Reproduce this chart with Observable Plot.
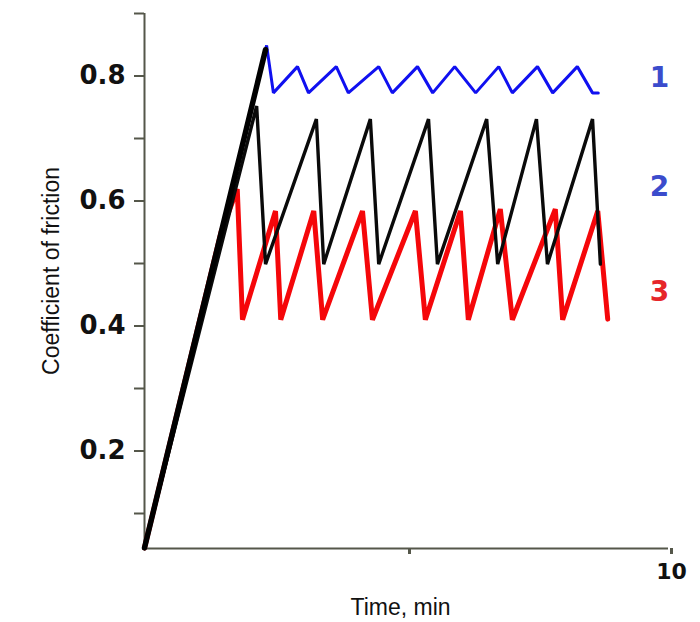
<!DOCTYPE html>
<html>
<head>
<meta charset="utf-8">
<script src="https://cdn.jsdelivr.net/npm/d3@7"></script>
<script src="https://cdn.jsdelivr.net/npm/@observablehq/plot@0.6"></script>
<style>
  html, body { margin: 0; padding: 0; background: #fff; }
  #chart svg { display: block; }
</style>
</head>
<body>
<div id="chart"></div>
<script>
// ---- data ----
const runInX = [0, 2.31];
const runInY = [0.045, 0.842];

const curve1X = [0, 2.33, 2.46, 2.92, 3.13, 3.66, 3.89, 4.47, 4.73, 5.21, 5.50, 5.92, 6.32, 6.76, 7.02, 7.50, 7.79, 8.26, 8.55, 8.66];
const curve1Y = [0.045, 0.849, 0.773, 0.815, 0.773, 0.815, 0.773, 0.815, 0.773, 0.815, 0.773, 0.815, 0.773, 0.815, 0.773, 0.815, 0.773, 0.815, 0.773, 0.773];

const curve2X = [0, 2.14, 2.31, 3.28, 3.42, 4.31, 4.47, 5.42, 5.59, 6.53, 6.74, 7.48, 7.69, 8.55, 8.70];
const curve2Y = [0.045, 0.752, 0.499, 0.731, 0.499, 0.731, 0.499, 0.731, 0.499, 0.731, 0.499, 0.731, 0.499, 0.731, 0.499];

const curve3X = [0, 1.46, 1.77, 1.87, 2.50, 2.60, 3.23, 3.40, 4.16, 4.35, 5.17, 5.36, 6.03, 6.18, 6.79, 7.02, 7.84, 7.98, 8.65, 8.84];
const curve3Y = [0.045, 0.55, 0.619, 0.410, 0.584, 0.410, 0.584, 0.410, 0.584, 0.410, 0.584, 0.410, 0.584, 0.410, 0.587, 0.410, 0.587, 0.410, 0.584, 0.411];

const seriesNames = ["1", "2", "3"];
const seriesLabelY = [0.796, 0.623, 0.455];

const yTicks = [0.1, 0.2, 0.3, 0.4, 0.5, 0.6, 0.7, 0.8, 0.9];
const yTickLabels = ["", "0.2", "", "0.4", "", "0.6", "", "0.8", ""];
const xTicks = [5, 10];
const xTickLabels = ["", "10"];

const xDomain = [0, 10];
const yDomain = [0.044, 0.9];

const toPts = (xs, ys) => xs.map((x, i) => ({x, y: ys[i]}));
const labels = seriesNames.map((s, i) => ({s, y: seriesLabelY[i]}));

const axisColor = "#55574a";
const boldFont = "'DejaVu Sans', Verdana, sans-serif";
const sansFont = "'Liberation Sans', Arial, sans-serif";

const chart = Plot.plot({
  width: 700,
  height: 622,
  marginLeft: 144,
  marginRight: 32,
  marginTop: 13,
  marginBottom: 74,
  x: {domain: xDomain},
  y: {domain: yDomain},
  style: {background: "#fff"},
  marks: [
    Plot.axisY({
      ticks: yTicks,
      tickFormat: d => yTickLabels[yTicks.indexOf(d)],
      tickSize: 10,
      tickPadding: 9,
      stroke: axisColor,
      strokeWidth: 2,
      fill: "#111",
      fontSize: 26,
      fontWeight: "bold",
      fontFamily: boldFont,
      label: null
    }),
    Plot.axisX({
      ticks: xTicks,
      tickFormat: d => xTickLabels[xTicks.indexOf(d)],
      tickSize: 6,
      tickPadding: 9,
      stroke: axisColor,
      strokeWidth: 3,
      fill: "#111",
      fontSize: 22,
      fontWeight: "bold",
      fontFamily: boldFont,
      dx: 3,
      label: null
    }),
    Plot.ruleX([xDomain[0]], {stroke: axisColor, strokeWidth: 2}),
    Plot.ruleY([yDomain[0]], {stroke: axisColor, strokeWidth: 2}),
    Plot.line(toPts(curve3X, curve3Y), {x: "x", y: "y", stroke: "#f5070a", strokeWidth: 5, strokeLinejoin: "miter"}),
    Plot.line(toPts(curve2X, curve2Y), {x: "x", y: "y", stroke: "#0a0a0a", strokeWidth: 3.4, strokeLinejoin: "miter"}),
    Plot.line(toPts(curve1X, curve1Y), {x: "x", y: "y", stroke: "#1010f0", strokeWidth: 3, strokeLinejoin: "miter"}),
    Plot.line(toPts(runInX, runInY), {x: "x", y: "y", stroke: "#000", strokeWidth: 5.5}),
    Plot.text(labels, {
      frameAnchor: "right", y: "y", text: "s", dx: -9,
      fill: (d) => d.s === "3" ? "#e6262a" : "#3b4ccc",
      fontSize: 28, fontWeight: "bold", fontFamily: boldFont, textAnchor: "middle"
    }),
    Plot.text(["Time, min"], {
      frameAnchor: "bottom", dy: 66, dx: -6, text: d => d, textAnchor: "middle",
      fontSize: 23, fontFamily: sansFont, fill: "#111"
    }),
    Plot.text(["Coefficient of friction"], {
      frameAnchor: "left", rotate: -90, dx: -93, dy: -10, text: d => d, textAnchor: "middle",
      fontSize: 23, fontFamily: sansFont, fill: "#111"
    })
  ]
});
document.getElementById("chart").append(chart);
</script>
</body>
</html>
